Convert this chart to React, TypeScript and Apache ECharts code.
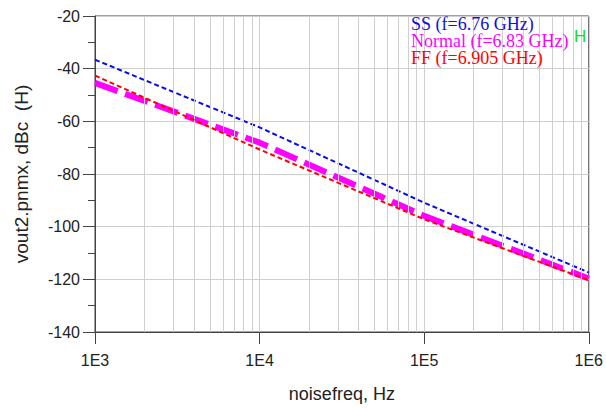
import React, { useEffect, useRef } from "react";
import * as echarts from "echarts";

const freqs = [1e3, 1e4, 1e5, 1e6];
const ssValues = [-36.6, -62.3, -90.9, -117.4];
const normalValues = [-45.4, -68.1, -95.9, -119.7];
const ffValues = [-42.6, -70.7, -97.2, -120.3];
const seriesNames = ["SS (f=6.76 GHz)", "Normal (f=6.83 GHz)", "FF (f=6.905 GHz)"];
const minorGridFreqs = [
  2e3, 3e3, 4e3, 5e3, 6e3, 7e3, 8e3, 9e3,
  2e4, 3e4, 4e4, 5e4, 6e4, 7e4, 8e4, 9e4,
  2e5, 3e5, 4e5, 5e5, 6e5, 7e5, 8e5, 9e5,
];

const pairs = (vals: number[]) => freqs.map((f, i) => [f, vals[i]]);

export default function App() {
  const ref = useRef<HTMLDivElement>(null);
  useEffect(() => {
    const chart = echarts.init(ref.current!, null, { renderer: "svg" });
    const axisColor = "#444";
    const textColor = "#222";
    chart.setOption({
      animation: false,
      backgroundColor: "#fff",
      grid: {
        left: 95,
        right: 13,
        top: 16,
        bottom: 75,
        show: true,
        borderColor: axisColor,
        borderWidth: 1,
      },
      xAxis: {
        type: "log",
        logBase: 10,
        min: 1e3,
        max: 1e6,
        name: "noisefreq, Hz",
        nameLocation: "middle",
        nameGap: 53,
        nameTextStyle: { fontFamily: "Liberation Sans", fontSize: 18, color: textColor },
        axisLine: { show: true, onZero: false, lineStyle: { color: axisColor, width: 1 } },
        axisTick: { show: true, length: 12, lineStyle: { color: axisColor } },
        minorTick: { show: false },
        splitLine: { show: true, lineStyle: { color: "#cfcfcf", width: 1 } },
        axisLabel: {
          fontFamily: "Liberation Sans",
          fontSize: 16,
          color: textColor,
          margin: 20,
          formatter: (v: number) => "1E" + Math.round(Math.log10(v)),
        },
      },
      yAxis: {
        type: "value",
        min: -140,
        max: -20,
        interval: 20,
        name: "vout2.pnmx, dBc  (H)",
        nameLocation: "middle",
        nameGap: 64,
        nameTextStyle: { fontFamily: "Liberation Sans", fontSize: 19, color: textColor },
        axisLine: { show: true, onZero: false, lineStyle: { color: axisColor, width: 1 } },
        axisTick: { show: true, length: 12, lineStyle: { color: axisColor } },
        minorTick: { show: true, splitNumber: 2, length: 7, lineStyle: { color: axisColor } },
        splitLine: { show: true, lineStyle: { color: "#cfcfcf", width: 1 } },
        axisLabel: { fontFamily: "Liberation Sans", fontSize: 16, color: textColor, margin: 15 },
      },
      series: [
        {
          type: "line",
          name: "grid",
          data: [],
          z: 1,
          silent: true,
          markLine: {
            silent: true,
            symbol: "none",
            label: { show: false },
            lineStyle: { color: "#cfcfcf", type: "solid", width: 1 },
            data: minorGridFreqs.map((f) => ({ xAxis: f })),
          },
        },
        {
          type: "line",
          name: seriesNames[0],
          data: pairs(ssValues),
          showSymbol: false,
          lineStyle: { color: "#0a0aee", width: 2, type: [5, 3] },
          z: 3,
        },
        {
          type: "line",
          name: seriesNames[1],
          data: pairs(normalValues),
          showSymbol: false,
          lineStyle: { color: "#ff00ff", width: 6, type: [24, 8] },
          z: 4,
        },
        {
          type: "line",
          name: seriesNames[2],
          data: pairs(ffValues),
          showSymbol: false,
          lineStyle: { color: "#ff0000", width: 2, type: [5, 3] },
          z: 5,
        },
      ],
      graphic: [
        {
          type: "text",
          left: 411,
          top: 15,
          z: 10,
          style: { text: seriesNames[0], fill: "#1010e0", font: "18px 'Liberation Serif'" },
        },
        {
          type: "text",
          left: 411,
          top: 32,
          z: 10,
          style: { text: seriesNames[1], fill: "#ff00ff", font: "18px 'Liberation Serif'" },
        },
        {
          type: "text",
          left: 411,
          top: 49,
          z: 10,
          style: { text: seriesNames[2], fill: "#ff0000", font: "18px 'Liberation Serif'" },
        },
        {
          type: "text",
          left: 574,
          top: 28,
          z: 10,
          style: { text: "H", fill: "#11e011", font: "17px 'Liberation Sans'" },
        },
      ],
    });
    return () => chart.dispose();
  }, []);
  return (
    <div
      ref={ref}
      style={{ position: "fixed", left: 0, top: 0, width: 606, height: 408 }}
    />
  );
}
